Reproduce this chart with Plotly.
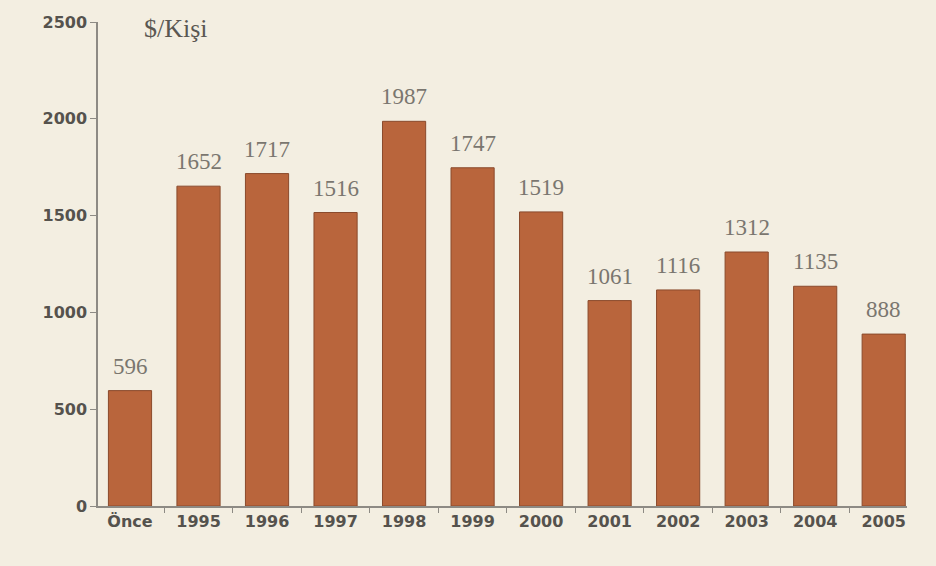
import plotly.graph_objects as go

categories = ["Önce", "1995", "1996", "1997", "1998", "1999", "2000",
              "2001", "2002", "2003", "2004", "2005"]
values = [596, 1652, 1717, 1516, 1987, 1747, 1519, 1061, 1116, 1312, 1135, 888]
y_ticks = [0, 500, 1000, 1500, 2000, 2500]

bg = "#f3eee1"
bar_color = "#b9653c"
grey = "#5a5752"

fig = go.Figure()
fig.add_trace(go.Bar(
    x=categories, y=values,
    marker=dict(color=bar_color, line=dict(color="#8a4a2c", width=1)),
    width=0.63,
    hoverinfo="x+y",
))

for i, v in enumerate(values):
    fig.add_annotation(
        x=i, y=v, text=str(v), showarrow=False, yanchor="bottom", yshift=10,
        font=dict(family="Liberation Serif, serif", size=23, color="#7a766f"),
    )

fig.add_annotation(
    xref="paper", yref="paper", x=0.055, y=1.0, text="$/Kişi", showarrow=False,
    xanchor="left", yanchor="middle", yshift=-6,
    font=dict(family="Liberation Serif, serif", size=26, color=grey),
)

tick_font = dict(family="DejaVu Sans, Verdana, sans-serif", size=16,
                 color="#55524d", weight="bold")

fig.update_layout(
    width=936, height=566, autosize=False,
    paper_bgcolor=bg, plot_bgcolor=bg,
    margin=dict(l=98, r=29, t=22, b=60),
    showlegend=False,
    xaxis=dict(
        type="category", range=[-0.467, 11.34],
        showline=True, linecolor="#8d8a84", linewidth=1.5,
        ticks="outside", tickson="boundaries", ticklen=5, tickcolor="#8d8a84",
        tickfont=tick_font,
        showgrid=False, zeroline=False,
    ),
    yaxis=dict(
        range=[0, 2500], tickvals=y_ticks,
        showline=True, linecolor="#8d8a84", linewidth=1.5,
        ticks="outside", ticklen=6, tickcolor="#8d8a84",
        tickfont=tick_font,
        showgrid=False, zeroline=False,
    ),
    font=dict(family="DejaVu Sans, sans-serif"),
)

fig.write_html("out.html", config={"displayModeBar": False},
               post_script="document.body.style.margin='0';document.body.style.background='%s';" % bg)
